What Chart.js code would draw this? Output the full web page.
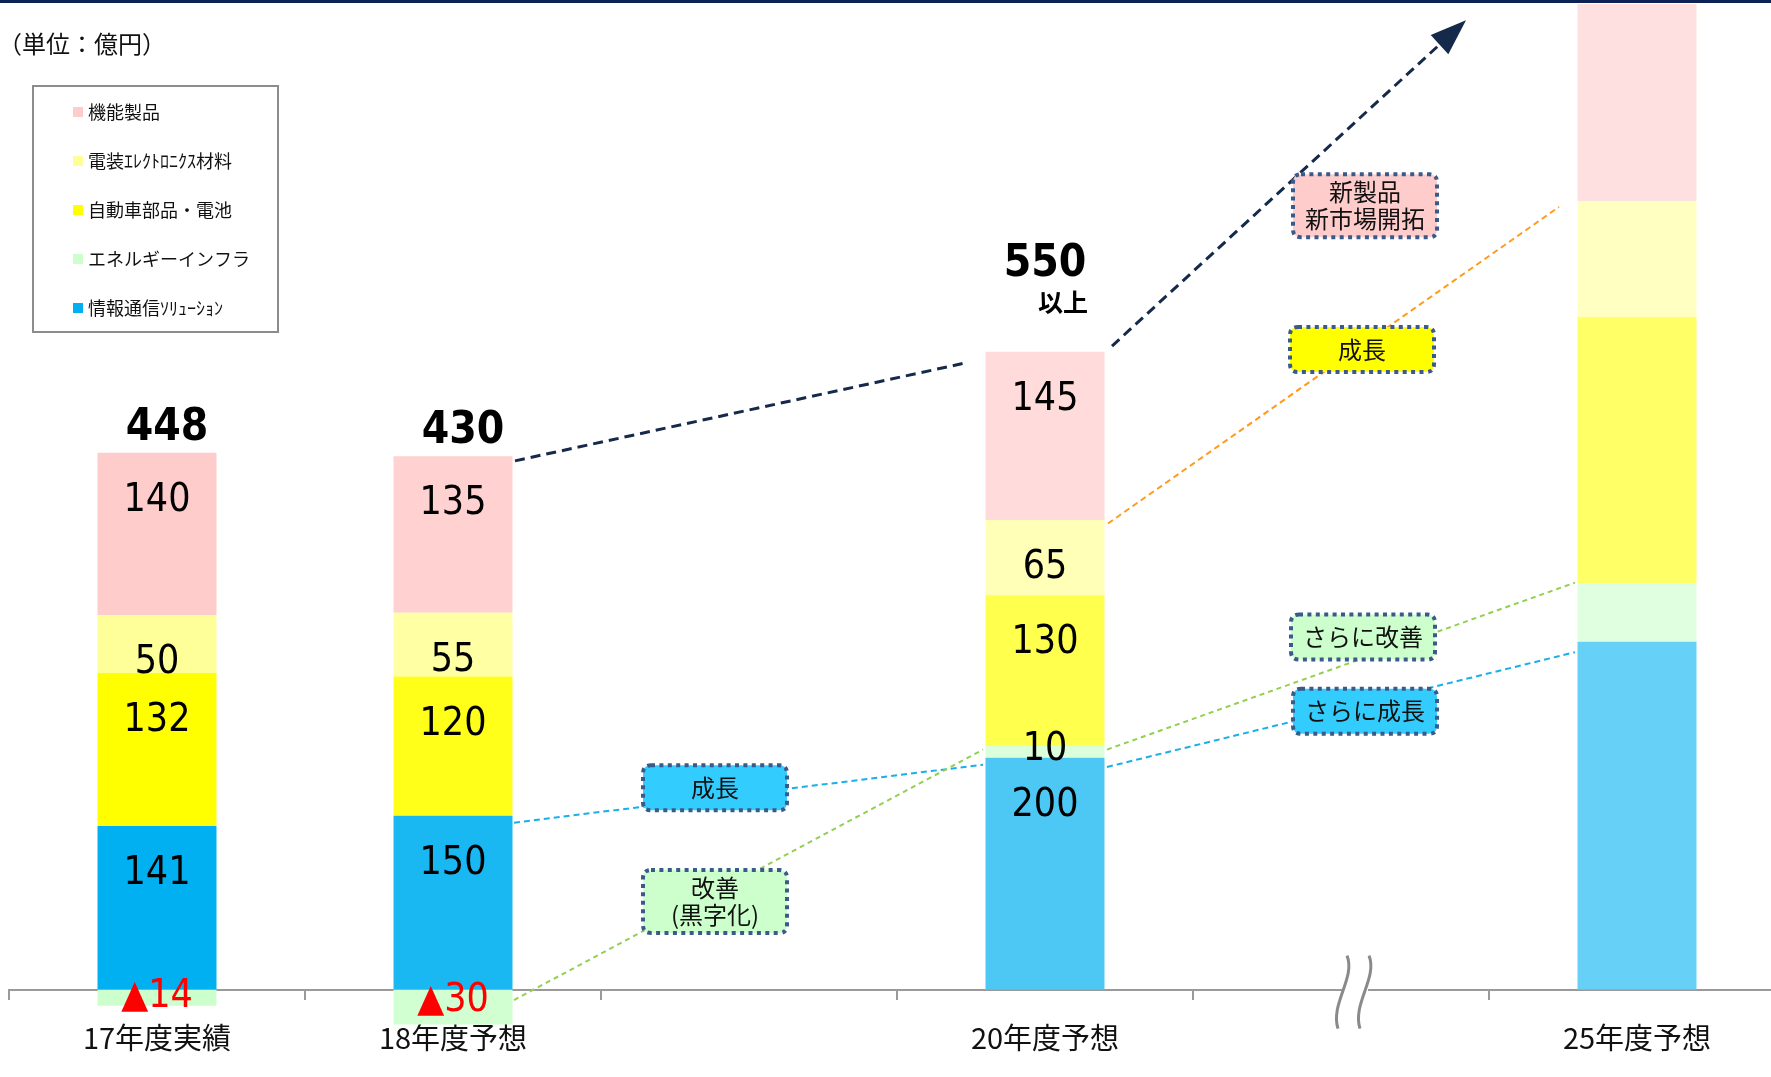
<!DOCTYPE html>
<html lang="ja">
<head>
<meta charset="utf-8">
<title>セグメント別営業利益</title>
<script src="https://cdn.jsdelivr.net/npm/chart.js@4.4.1/dist/chart.umd.min.js"></script>
<style>
html, body { margin: 0; padding: 0; background: #fff; overflow: hidden; }
#wrap { position: absolute; left: 0; top: 0; width: 1800px; height: 1077px; }
</style>
</head>
<body>
<div id="wrap"><canvas id="profit"></canvas></div>
<script>
var years = ['17年度実績', '18年度予想', '', '20年度予想', '', '25年度予想'];
var infoComm = [141, 150, null, 200, null, 300];
var energyInfra = [-14, -30, null, 10, null, 50];
var autoParts = [132, 120, null, 130, null, 230];
var elecMaterials = [50, 55, null, 65, null, 100];
var functional = [140, 135, null, 145, null, 320];
var totals = ['448', '430', null, '550', null, null];
var totalNotes = [null, null, null, '以上', null, null];

var numFont = '"DejaVu Sans Condensed", "Noto Sans", sans-serif';
var jpFont = '"Noto Sans CJK JP", sans-serif';

// later years are drawn paler
var fade = [1, 0.9, 1, 0.7, 1, 0.6];

function tint(hex, a) {
  var r = parseInt(hex.substr(1, 2), 16), g = parseInt(hex.substr(3, 2), 16), b = parseInt(hex.substr(5, 2), 16);
  var mix = function (c) { return Math.round(255 - (255 - c) * a); };
  return 'rgb(' + mix(r) + ',' + mix(g) + ',' + mix(b) + ')';
}

function series(label, data, color) {
  return {
    label: label,
    data: data,
    baseColor: color,
    backgroundColor: fade.map(function (a) { return tint(color, a); }),
    borderWidth: 0,
    barPercentage: 0.402,
    categoryPercentage: 1
  };
}

// dashed guide lines: [category, x offset from slot centre, value]
var guides = [
  { from: [1, 61, 144], to: [3, -62, 194], color: '#1AAFE8', width: 2, dash: [6, 4] },
  { from: [3, 62, 192], to: [5, -62, 291], color: '#1AAFE8', width: 2, dash: [6, 4] },
  { from: [1, 61, -9], to: [3, -62, 207], color: '#92D050', width: 2, dash: [5, 4] },
  { from: [3, 62, 207], to: [5, -62, 351], color: '#92D050', width: 2, dash: [5, 4] },
  { from: [3, 63, 402], to: [5, -78, 675], color: '#FF9A1A', width: 2, dash: [6, 4] },
  { from: [1, 62, 456], to: [3, -82, 540], color: '#15294A', width: 3, dash: [10, 6] },
  { from: [3, 67, 555], to: [4, 125, 836], color: '#15294A', width: 3, dash: [10, 6], arrow: true }
];

var callouts = [
  { at: [2, -34, 174], lines: ['成長'], fill: '#33CCFF' },
  { at: [2, -34, 76], lines: ['改善', '(黒字化)'], fill: '#CCFFCC' },
  { at: [4, 24, 676], lines: ['新製品', '新市場開拓'], fill: '#FFCCCC' },
  { at: [4, 21, 552], lines: ['成長'], fill: '#FFFF00' },
  { at: [4, 22, 304], lines: ['さらに改善'], fill: '#CCFFCC' },
  { at: [4, 24, 240], lines: ['さらに成長'], fill: '#33CCFF' }
];

function point(chart, p) {
  return { x: chart.scales.x.getPixelForValue(p[0]) + p[1], y: chart.scales.y.getPixelForValue(p[2]) };
}

function roundRect(ctx, x, y, w, h, r) {
  ctx.beginPath();
  ctx.moveTo(x + r, y);
  ctx.lineTo(x + w - r, y);
  ctx.quadraticCurveTo(x + w, y, x + w, y + r);
  ctx.lineTo(x + w, y + h - r);
  ctx.quadraticCurveTo(x + w, y + h, x + w - r, y + h);
  ctx.lineTo(x + r, y + h);
  ctx.quadraticCurveTo(x, y + h, x, y + h - r);
  ctx.lineTo(x, y + r);
  ctx.quadraticCurveTo(x, y, x + r, y);
  ctx.closePath();
}

function drawSegmentLabels(chart) {
  var ctx = chart.ctx;
  ctx.save();
  ctx.textAlign = 'center';
  ctx.font = '39px ' + numFont;
  chart.data.datasets.forEach(function (ds, di) {
    chart.getDatasetMeta(di).data.forEach(function (bar, i) {
      var v = ds.data[i];
      if (v == null || totals[i] == null) return;
      var top = Math.min(bar.y, bar.base), bottom = Math.max(bar.y, bar.base);
      if (v < 0) {
        ctx.fillStyle = '#FF0000';
        ctx.textBaseline = 'middle';
        ctx.fillText('▲' + (-v), bar.x, Math.max((top + bottom) / 2 - 6, top + 7));
      } else {
        ctx.fillStyle = '#000';
        ctx.textBaseline = 'alphabetic';
        ctx.fillText(String(v), bar.x, Math.min(top + 58, bottom + 2));
      }
    });
  });

  // stack totals above each bar
  var metaTop = chart.getDatasetMeta(chart.data.datasets.length - 1);
  totals.forEach(function (t, i) {
    if (t == null) return;
    var bar = metaTop.data[i];
    var top = bar.y;
    ctx.fillStyle = '#000';
    ctx.textBaseline = 'alphabetic';
    if (totalNotes[i]) {
      ctx.textAlign = 'center';
      ctx.font = 'bold 44px ' + numFont;
      ctx.fillText(t, bar.x, top - 76);
      ctx.textAlign = 'right';
      ctx.font = 'bold 25px ' + jpFont;
      ctx.fillText(totalNotes[i], bar.x + 43, top - 40);
    } else {
      ctx.textAlign = 'center';
      ctx.font = 'bold 44px ' + numFont;
      ctx.fillText(t, bar.x + 10, top - 13);
    }
  });
  ctx.restore();
}

function drawGuides(chart) {
  var ctx = chart.ctx;
  ctx.save();
  guides.forEach(function (g) {
    var a = point(chart, g.from), b = point(chart, g.to);
    var end = b;
    if (g.arrow) {
      var len = Math.hypot(b.x - a.x, b.y - a.y);
      var ux = (b.x - a.x) / len, uy = (b.y - a.y) / len;
      end = { x: b.x - ux * 30, y: b.y - uy * 30 };
    }
    ctx.strokeStyle = g.color;
    ctx.lineWidth = g.width;
    ctx.setLineDash(g.dash);
    ctx.beginPath();
    ctx.moveTo(a.x, a.y);
    ctx.lineTo(end.x, end.y);
    ctx.stroke();
    if (g.arrow) {
      var nx = -uy, ny = ux;
      ctx.setLineDash([]);
      ctx.fillStyle = g.color;
      ctx.beginPath();
      ctx.moveTo(b.x, b.y);
      ctx.lineTo(b.x - ux * 36 + nx * 13, b.y - uy * 36 + ny * 13);
      ctx.lineTo(b.x - ux * 36 - nx * 13, b.y - uy * 36 - ny * 13);
      ctx.closePath();
      ctx.fill();
    }
  });
  ctx.restore();
}

function drawCallouts(chart) {
  var ctx = chart.ctx;
  ctx.save();
  callouts.forEach(function (c) {
    var p = point(chart, c.at);
    var w = 144, h = c.lines.length > 1 ? 63 : 45;
    roundRect(ctx, p.x - w / 2, p.y - h / 2, w, h, 8);
    ctx.fillStyle = c.fill;
    ctx.fill();
    ctx.setLineDash([4, 4.4]);
    ctx.lineWidth = 4;
    ctx.strokeStyle = '#3A5A8A';
    ctx.stroke();
    ctx.setLineDash([]);
    ctx.fillStyle = '#111';
    ctx.font = '24px ' + jpFont;
    ctx.textAlign = 'center';
    ctx.textBaseline = 'middle';
    var step = 27;
    var y0 = p.y - (c.lines.length - 1) * step / 2;
    c.lines.forEach(function (s, k) { ctx.fillText(s, p.x, y0 + k * step); });
  });
  ctx.restore();
}

function drawFrame(chart) {
  var ctx = chart.ctx;
  ctx.save();
  // header rule
  ctx.fillStyle = '#0C2356';
  ctx.fillRect(0, 0, chart.width, 3);

  ctx.fillStyle = '#111';
  ctx.font = '24px ' + jpFont;
  ctx.textAlign = 'left';
  ctx.textBaseline = 'middle';
  ctx.fillText('（単位：億円）', -2, 44);

  // legend box
  ctx.strokeStyle = '#8C8C8C';
  ctx.lineWidth = 2;
  ctx.strokeRect(33, 86, 245, 246);
  ctx.font = '18px ' + jpFont;
  chart.data.datasets.slice().reverse().forEach(function (ds, k) {
    var y = 112 + k * 49;
    ctx.fillStyle = ds.baseColor;
    ctx.fillRect(73, y - 5, 10, 10);
    ctx.fillStyle = '#111';
    ctx.fillText(ds.label, 88, y);
  });

  // axis break between 20 and 25
  var bx = chart.scales.x.getPixelForValue(4);
  var by = chart.scales.y.getPixelForValue(0);
  ctx.fillStyle = '#fff';
  ctx.fillRect(bx + 1, by - 3, 26, 6);
  ctx.strokeStyle = '#8A8A8A';
  ctx.lineWidth = 3;
  [0, 22].forEach(function (ox) {
    ctx.beginPath();
    ctx.moveTo(bx + 6 + ox, by - 34);
    ctx.bezierCurveTo(bx + 15 + ox, by - 12, bx - 11 + ox, by + 14, bx - 3 + ox, by + 39);
    ctx.stroke();
  });
  ctx.restore();
}

var decorations = {
  id: 'decorations',
  beforeDraw: function (chart) {
    var ctx = chart.ctx;
    ctx.save();
    ctx.fillStyle = '#fff';
    ctx.fillRect(0, 0, chart.width, chart.height);
    ctx.restore();
  },
  afterDatasetsDraw: function (chart) {
    drawSegmentLabels(chart);
    drawGuides(chart);
    drawCallouts(chart);
  },
  afterDraw: function (chart) {
    drawFrame(chart);
  }
};

new Chart(document.getElementById('profit'), {
  type: 'bar',
  data: {
    labels: years,
    datasets: [
      series('情報通信ｿﾘｭｰｼｮﾝ', infoComm, '#00B0F0'),
      series('エネルギーインフラ', energyInfra, '#CCFFCC'),
      series('自動車部品・電池', autoParts, '#FFFF00'),
      series('電装ｴﾚｸﾄﾛﾆｸｽ材料', elecMaterials, '#FFFF99'),
      series('機能製品', functional, '#FFCCCC')
    ]
  },
  options: {
    responsive: true,
    maintainAspectRatio: false,
    animation: false,
    layout: { padding: { left: 9, right: 15, top: 4, bottom: 41 } },
    plugins: {
      legend: { display: false },
      tooltip: { enabled: false }
    },
    scales: {
      x: {
        stacked: true,
        position: { y: 0 },
        grid: { drawOnChartArea: false, drawTicks: true, tickLength: 9, color: '#9A9A9A', lineWidth: 2 },
        border: { display: true, color: '#9A9A9A', width: 2 },
        ticks: {
          color: '#111',
          font: { family: jpFont, size: 29 },
          padding: 22,
          maxRotation: 0,
          autoSkip: false
        }
      },
      y: {
        stacked: true,
        display: false,
        min: -40,
        max: 850
      }
    }
  },
  plugins: [decorations]
});
</script>
</body>
</html>
